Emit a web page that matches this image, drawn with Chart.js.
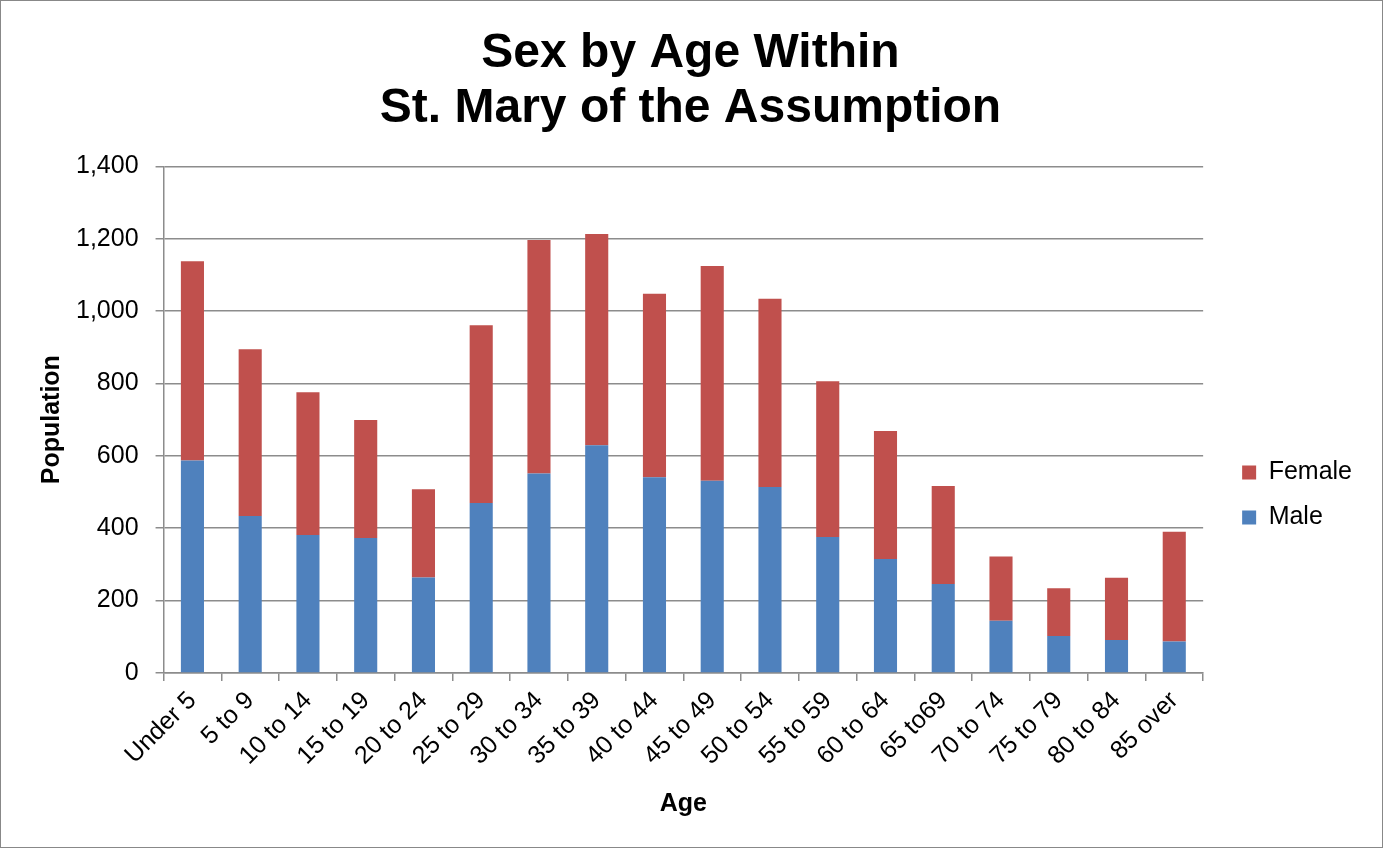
<!DOCTYPE html>
<html>
<head>
<meta charset="utf-8">
<script src="https://cdn.jsdelivr.net/npm/chart.js@4.4.1/dist/chart.umd.min.js"></script>
<style>
  body { margin: 0; background: #fff; }
  #wrap { width: 1383px; height: 848px; box-sizing: border-box; border: 1px solid #888; }
  canvas { display: block; }
</style>
</head>
<body>
<div id="wrap"><canvas id="ageChart" width="1381" height="846"></canvas></div>
<script>
const ageGroups = ['Under 5', '5 to 9', '10 to 14', '15 to 19', '20 to 24', '25 to 29',
  '30 to 34', '35 to 39', '40 to 44', '45 to 49', '50 to 54', '55 to 59',
  '60 to 64', '65 to69', '70 to 74', '75 to 79', '80 to 84', '85 over'];
const male = [587, 434, 381, 373, 264, 470, 551, 629, 541, 531, 514, 376, 315, 246, 144, 102, 91, 87];
const female = [551, 461, 395, 326, 244, 491, 646, 584, 507, 594, 520, 430, 354, 271, 178, 132, 172, 303];

const font = 'Arial, "Liberation Sans", sans-serif';
const gridGray = '#8c8c8c';

// excel centres the title a bit left of where chart.js puts it
const titleShift = {
  id: 'titleShift',
  afterLayout(chart) {
    const t = chart.titleBlock;
    if (t) { t.left -= 9; t.right -= 9; }
  }
};

const ctx = document.getElementById('ageChart').getContext('2d');
new Chart(ctx, {
  type: 'bar',
  data: {
    labels: ageGroups,
    datasets: [
      { label: 'Male', data: male, backgroundColor: '#4f81bd', borderWidth: 0,
        categoryPercentage: 0.8, barPercentage: 0.5 },
      { label: 'Female', data: female, backgroundColor: '#c0504d', borderWidth: 0,
        categoryPercentage: 0.8, barPercentage: 0.5 }
    ]
  },
  plugins: [titleShift],
  options: {
    responsive: false,
    animation: false,
    devicePixelRatio: 1,
    layout: { padding: { top: 0, left: 36, right: 20, bottom: 28 } },
    plugins: {
      title: {
        display: true,
        text: ['Sex by Age Within', 'St. Mary of the Assumption'],
        color: '#000',
        font: { family: font, size: 48, weight: 'bold', lineHeight: 1.13 },
        padding: { top: 26, bottom: 31 }
      },
      legend: {
        position: 'right',
        reverse: true,
        title: { display: true, text: ' ', font: { family: font, size: 25 }, padding: { top: 0, bottom: 140 } },
        labels: {
          color: '#000',
          font: { family: font, size: 25 },
          boxWidth: 14,
          boxHeight: 14,
          padding: 20
        }
      },
      tooltip: { enabled: false }
    },
    scales: {
      x: {
        stacked: true,
        grid: { drawOnChartArea: false, drawTicks: true, tickLength: 8, color: gridGray, lineWidth: 1.5 },
        border: { color: gridGray, width: 1.5 },
        ticks: { color: '#000', font: { family: font, size: 25 }, minRotation: 45, maxRotation: 45,
          padding: 5 },
        title: { display: true, text: 'Age', color: '#000', font: { family: font, size: 25, weight: 'bold' },
          padding: { top: 13, bottom: 0 } },
        afterFit: (scale) => { scale.paddingLeft = 0; scale.paddingRight = 0; }
      },
      y: {
        stacked: true,
        min: 0,
        max: 1400,
        ticks: { stepSize: 200, color: '#000', font: { family: font, size: 25 }, padding: 17 },
        grid: { color: gridGray, lineWidth: 1.5, tickLength: 8 },
        border: { color: gridGray, width: 1.5 },
        title: { display: true, text: 'Population', color: '#000', font: { family: font, size: 25, weight: 'bold' },
          padding: { top: 0, bottom: 9 } },
        // the tick padding gets counted twice in the width, take one back
        afterFit: (scale) => { scale.width -= 17; }
      },
      gap: {
        type: 'linear',
        position: 'right',
        grid: { display: false },
        border: { display: false },
        ticks: { display: false },
        afterFit: (scale) => { scale.width = 19; }
      }
    }
  }
});
</script>
</body>
</html>
